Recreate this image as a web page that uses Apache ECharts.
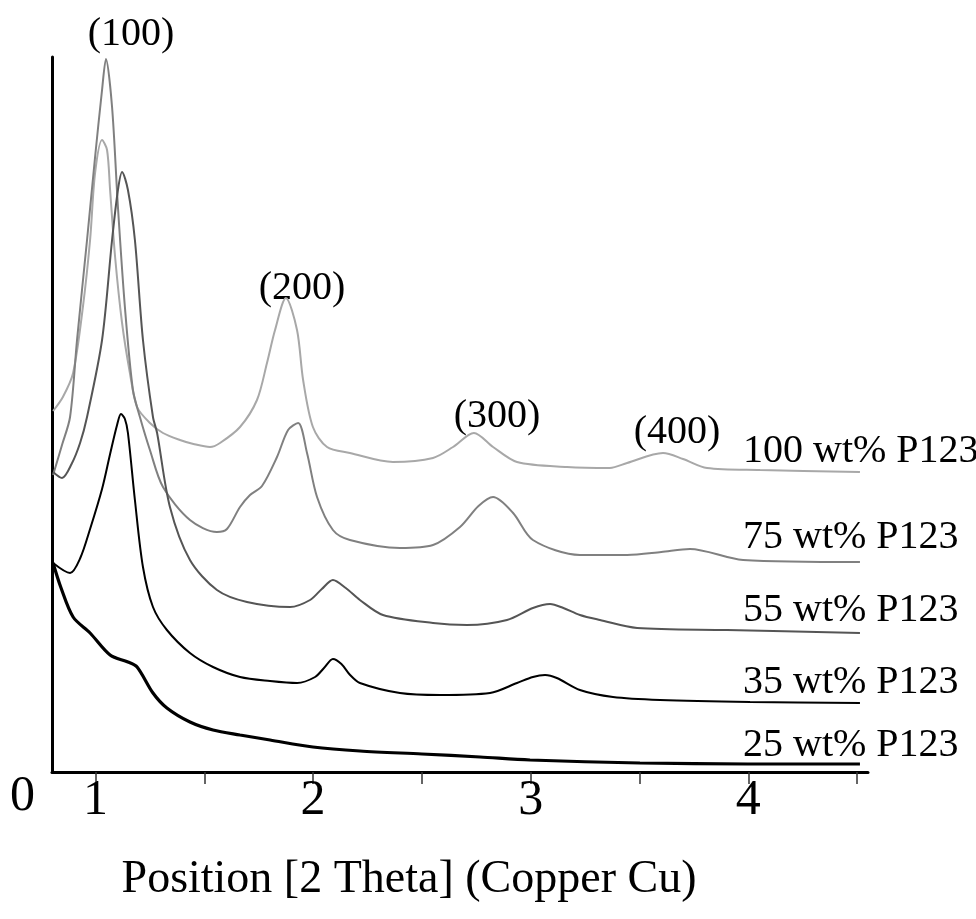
<!DOCTYPE html>
<html><head><meta charset="utf-8">
<script src="https://cdn.jsdelivr.net/npm/echarts@6/dist/echarts.min.js"></script>
<style>html,body{margin:0;padding:0;background:#fff}#c{width:976px;height:919px}</style>
</head><body><div id="c"></div>
<script>
// ---- data (2 Theta, intensity a.u.) ----
const theta25 = [0.805,0.84,0.897,0.975,1.067,1.149,1.191,1.264,1.328,1.434,1.540,1.664,1.802,1.999,2.215,2.500,2.767,2.997,3.502,3.998,4.513];
const int25   = [209,185,155,139,117,110,105,79,64,50,42,37,32,25,21,18,15,12,9,8,8];

const theta35 = [0.805,0.883,0.93,0.975,1.030,1.067,1.099,1.117,1.135,1.149,1.181,1.218,1.264,1.328,1.434,1.540,1.664,1.802,1.926,2.009,2.050,2.091,2.130,2.170,2.215,2.399,2.583,2.813,2.937,3.010,3.066,3.120,3.226,3.378,3.594,4.008,4.513];
const int35   = [209,199,214,243,283,318,347,358,353,339,272,205,165,142,119,105,95,91,89,95,104,113,108,97,89,79,77,79,89,95,97,94,82,75,72,70,69];

const theta55 = [0.805,0.846,0.890,0.929,0.961,1.030,1.076,1.103,1.122,1.149,1.181,1.218,1.264,1.283,1.342,1.434,1.558,1.696,1.894,1.986,2.040,2.091,2.150,2.215,2.321,2.551,2.707,2.891,3.010,3.089,3.150,3.226,3.318,3.489,3.902,4.513];
const int55   = [300,294,308,329,355,432,532,582,600,582,532,432,355,339,265,212,182,170,165,172,183,192,184,172,157,149,147,152,164,168,164,157,152,144,142,139];

const theta75 = [0.805,0.846,0.883,0.915,0.961,0.998,1.030,1.048,1.076,1.103,1.135,1.172,1.204,1.250,1.310,1.434,1.558,1.604,1.664,1.710,1.765,1.834,1.885,1.931,1.972,2.018,2.091,2.169,2.399,2.551,2.675,2.760,2.827,2.919,3.010,3.226,3.443,3.600,3.732,3.976,4.513];
const int75   = [297,327,355,432,532,615,682,713,665,565,465,382,355,322,285,252,240,243,265,277,286,315,342,349,319,275,242,232,224,227,245,266,275,259,232,217,217,220,223,212,210];

const theta100 = [0.805,0.850,0.897,0.942,0.975,0.998,1.030,1.053,1.067,1.090,1.122,1.158,1.191,1.250,1.310,1.388,1.450,1.526,1.572,1.664,1.742,1.788,1.825,1.875,1.926,1.954,1.999,2.064,2.169,2.367,2.551,2.643,2.739,2.827,2.937,3.167,3.364,3.443,3.608,3.700,3.810,4.054,4.513];
const int100   = [361,375,399,465,532,599,632,622,582,515,449,399,365,349,339,332,328,325,329,345,372,409,442,474,442,392,345,325,319,310,314,325,339,325,310,305,304,309,319,313,304,302,300];

const sampleNames = ['25 wt% P123','35 wt% P123','55 wt% P123','75 wt% P123','100 wt% P123'];
const peakLabels = ['(100)','(200)','(300)','(400)'];
const xTickValues = [1,1.5,2,2.5,3,3.5,4,4.5];
const xLabelValues = [1,2,3,4];
const axisTitle = 'Position [2 Theta] (Copper Cu)';

const zip = (a,b) => a.map((v,i)=>[v,b[i]]);
const seriesData = [zip(theta25,int25), zip(theta35,int35), zip(theta55,int55), zip(theta75,int75), zip(theta100,int100)];
const colors = ['#000000','#000000','#555555','#808080','#a8a8a8'];
const widths = [3.2,2,2,2,2];

const FONT = "'Liberation Serif','Times New Roman',serif";
const chart = echarts.init(document.getElementById('c'), null, {renderer:'canvas'});

const sampleLabelY = [745,682,610,537,451];
const peakPos = [[131,34],[302,288],[497,416],[677,432]];

chart.setOption({
  animation:false,
  backgroundColor:'#fff',
  grid:{left:52, top:57, width:816, height:715, containLabel:false},
  xAxis:{
    type:'value', min:0.8, max:4.55,
    axisLine:{show:true, onZero:false, lineStyle:{color:'#000', width:3}},
    axisTick:{show:true, customValues:xTickValues, length:12, inside:false, lineStyle:{color:'#333', width:1.5}},
    axisLabel:{show:true, customValues:xLabelValues, fontFamily:FONT, fontSize:50, color:'#000', margin:4},
    splitLine:{show:false}
  },
  yAxis:{
    type:'value', min:0, max:715,
    axisLine:{show:true, lineStyle:{color:'#000', width:3}},
    axisTick:{show:false},
    axisLabel:{show:true, customValues:[0], fontFamily:FONT, fontSize:50, color:'#000', margin:17, verticalAlign:'top'},
    splitLine:{show:false}
  },
  series: seriesData.map((d,i)=>({
    type:'line', name:sampleNames[i], data:d, smooth:0.3, showSymbol:false, symbol:'none',
    lineStyle:{color:colors[i], width:widths[i]}, z: 10-i, clip:false
  })),
  graphic: [
    ...peakLabels.map((t,i)=>({type:'text', x:peakPos[i][0], y:peakPos[i][1], style:{text:t, font:`40px ${FONT}`, fill:'#000', textAlign:'center', textVerticalAlign:'middle'}})),
    ...sampleNames.map((t,i)=>({type:'text', x:743, y:sampleLabelY[i], style:{text:t, font:`40px ${FONT}`, fill:'#000', textAlign:'left', textVerticalAlign:'middle'}})),
    {type:'text', x:409, y:880, style:{text:axisTitle, font:`46px ${FONT}`, fill:'#000', textAlign:'center', textVerticalAlign:'middle'}}
  ]
});
</script>
</body></html>
